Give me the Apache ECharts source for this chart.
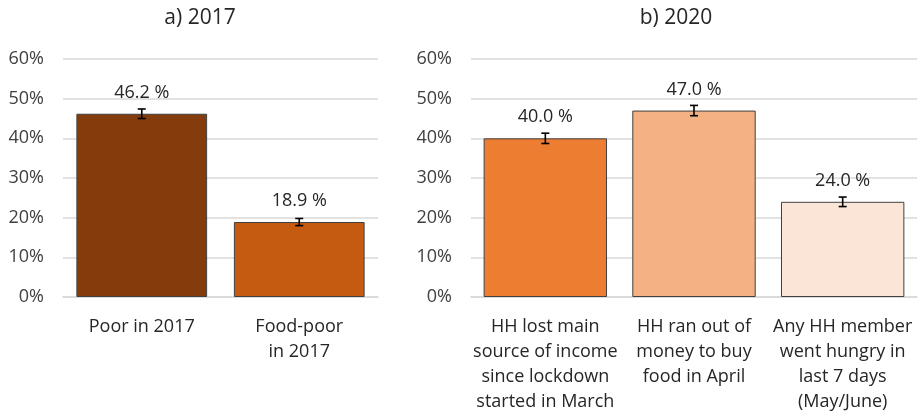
<!DOCTYPE html>
<html><head><meta charset="utf-8">
<script src="https://cdn.jsdelivr.net/npm/echarts@6/dist/echarts.min.js"></script>
<style>html,body{margin:0;padding:0;background:#fff}#c{width:919px;height:416px}</style>
</head><body><div id="c"></div>
<script>
const catsA = ['Poor in 2017', 'Food-poor\nin 2017'];
const valsA = [46.2, 18.9];
const errA = [1.2, 0.9];
const colorsA = ['#843C0C', '#C55A11'];
const catsB = ['HH lost main\nsource of income\nsince lockdown\nstarted in March', 'HH ran out of\nmoney to buy\nfood in April', 'Any HH member\nwent hungry in\nlast 7 days\n(May/June)'];
const valsB = [40.0, 47.0, 24.0];
const errB = [1.3, 1.3, 1.2];
const colorsB = ['#ED7D31', '#F4B183', '#FBE5D6'];
const titles = ['a) 2017', 'b) 2020'];
const yTicks = [0, 10, 20, 30, 40, 50, 60];

const FONT = '"Open Sans", sans-serif';
const chart = echarts.init(document.getElementById('c'));

function barData(vals, colors) {
  return vals.map((v, i) => ({ value: v, itemStyle: { color: colors[i] } }));
}
function errData(vals, errs) {
  return vals.map((v, i) => [i, v - errs[i], v + errs[i]]);
}
function errRender(params, api) {
  const lo = api.coord([api.value(0), api.value(1)]);
  const hi = api.coord([api.value(0), api.value(2)]);
  const x = lo[0], hw = 4;
  const st = { stroke: '#000', lineWidth: 1.6 };
  return { type: 'group', children: [
    { type: 'line', shape: { x1: x, y1: lo[1], x2: x, y2: hi[1] }, style: st },
    { type: 'line', shape: { x1: x - hw, y1: lo[1], x2: x + hw, y2: lo[1] }, style: st },
    { type: 'line', shape: { x1: x - hw, y1: hi[1], x2: x + hw, y2: hi[1] }, style: st }
  ]};
}
function yAxis(idx) {
  return {
    type: 'value', gridIndex: idx, min: yTicks[0], max: yTicks[yTicks.length - 1], interval: 10,
    axisLabel: { formatter: v => v + '%', color: '#404040', fontSize: 18, fontFamily: FONT, margin: 19 },
    splitLine: { lineStyle: { color: '#D9D9D9', width: 1.5 } },
    axisLine: { show: false }, axisTick: { show: false }
  };
}
function xAxis(idx, cats) {
  return {
    type: 'category', gridIndex: idx, data: cats,
    axisLine: { lineStyle: { color: '#D9D9D9', width: 1.5 } }, axisTick: { show: false },
    axisLabel: { color: '#262626', fontSize: 18, fontFamily: FONT, lineHeight: 25, margin: 17, interval: 0 }
  };
}
const labelCfg = { show: true, position: 'top', distance: 12, color: '#262626', fontSize: 18, fontFamily: FONT,
  formatter: p => p.value.toFixed(1) + ' %' };

chart.setOption({
  animation: false,
  title: [
    { text: titles[0], left: 195, top: 3, textAlign: 'center', textStyle: { fontSize: 21, fontWeight: 'normal', color: '#262626', fontFamily: FONT } },
    { text: titles[1], left: 671, top: 3, textAlign: 'center', textStyle: { fontSize: 21, fontWeight: 'normal', color: '#262626', fontFamily: FONT } }
  ],
  grid: [
    { left: 63, right: 541, top: 59, bottom: 119 },
    { left: 471, right: 2, top: 59, bottom: 119 }
  ],
  xAxis: [xAxis(0, catsA), xAxis(1, catsB)],
  yAxis: [yAxis(0), yAxis(1)],
  series: [
    { type: 'bar', xAxisIndex: 0, yAxisIndex: 0, data: barData(valsA, colorsA), barWidth: '83%',
      itemStyle: { borderColor: '#404040', borderWidth: 1 }, label: labelCfg },
    { type: 'custom', xAxisIndex: 0, yAxisIndex: 0, data: errData(valsA, errA), renderItem: errRender, z: 5 },
    { type: 'bar', xAxisIndex: 1, yAxisIndex: 1, data: barData(valsB, colorsB), barWidth: '83%',
      itemStyle: { borderColor: '#404040', borderWidth: 1 }, label: labelCfg },
    { type: 'custom', xAxisIndex: 1, yAxisIndex: 1, data: errData(valsB, errB), renderItem: errRender, z: 5 }
  ]
});
</script></body></html>
